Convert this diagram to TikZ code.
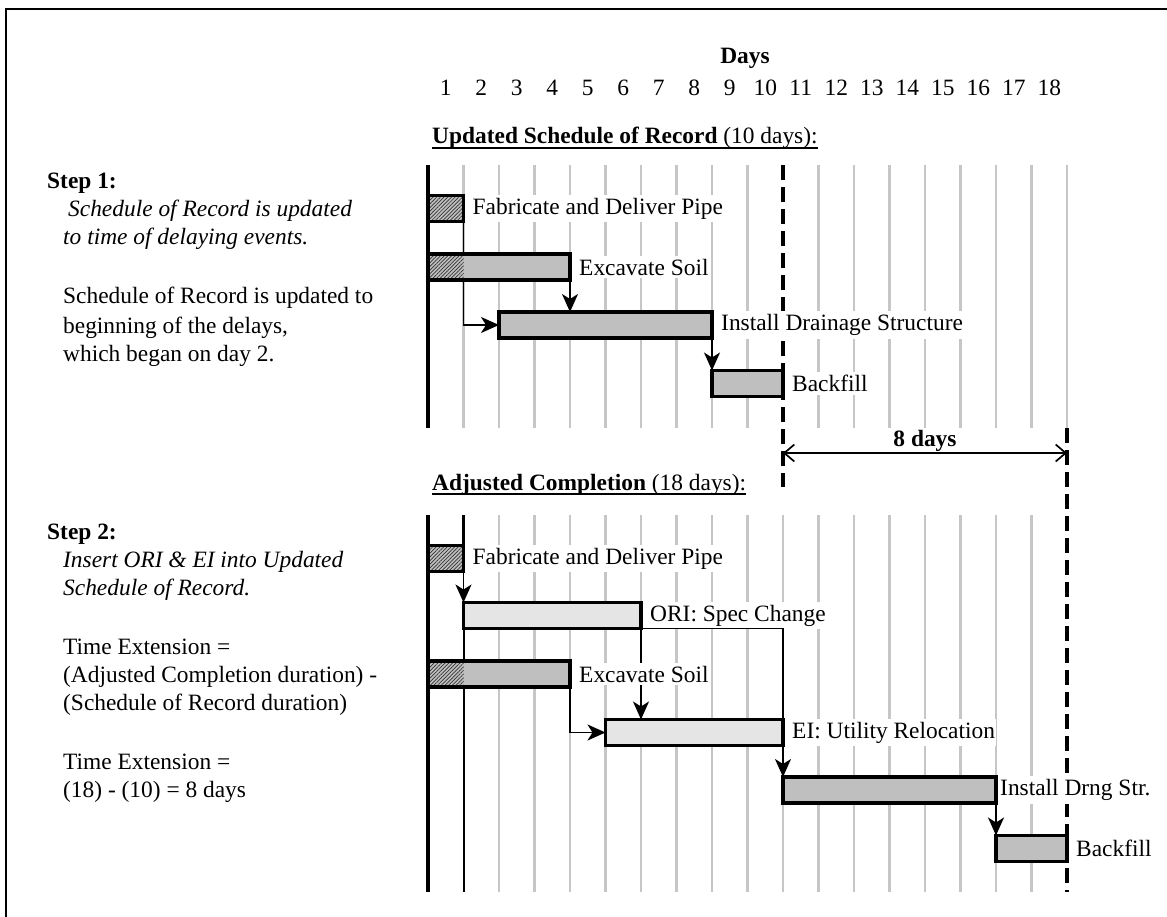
\documentclass[tikz,border=0pt]{standalone}
\usepackage{fontspec}
\setmainfont{Liberation Serif}
\usetikzlibrary{arrows.meta}
\usetikzlibrary{patterns.meta}
\usetikzlibrary{positioning}

\pgfdeclarelayer{background}
\pgfsetlayers{background,main}

\tikzset{
	bar/.style={draw, line width=3.6pt, fill=gray!50, minimum height=26pt, inner sep=0pt, outer sep=0pt, anchor=west},
	eventbar/.style={bar, fill=gray!20},
	hatchday/.style={path picture={\fill[pattern={Lines[angle=45,distance=2.6pt,line width=0.7pt]}, pattern color=black!80]
		(path picture bounding box.north west) rectangle ([xshift=35.5pt]path picture bounding box.south west);}},
	lbl/.style={fill=white, inner xsep=1pt, inner ysep=3pt},
	txt/.style={anchor=base west, inner sep=0pt},
	link/.style={line width=1.7pt, -{Stealth[length=18pt,width=16pt,inset=5pt]}},
	gridline/.style={gray!45, line width=2.2pt},
	compline/.style={line width=3.6pt, dash pattern=on 15pt off 7pt},
}

\begin{document}
\begin{tikzpicture}[x=1pt, y=-1pt, font=\fontsize{23.4}{28}\selectfont]

	\useasboundingbox (0,0) rectangle (1167,917);

	%frame (top and left edge only)
	\draw[line width=2.8pt] (6,925) -- (6,9) -- (1175,9);

	%day scale
	\node[anchor=base] (days) at (745,64) {\textbf{Days}};
	\foreach \d in {1,...,18}
		\node[anchor=base] (day\d) at ({428+35.5*(\d-0.5)},96) {\d};

	%section titles
	\node[txt] (ttl1) at (432,144) {\textbf{Updated Schedule of Record} (10 days):};
	\draw[line width=2.2pt] ([yshift=-4pt]ttl1.base west) -- ([yshift=-4pt]ttl1.base east);
	\node[txt] (ttl2) at (432,490) {\textbf{Adjusted Completion} (18 days):};
	\draw[line width=2.2pt] ([yshift=-4pt]ttl2.base west) -- ([yshift=-4pt]ttl2.base east);

	%step 1 text
	\node[txt] (stp1) at (47,189) {\textbf{Step 1:}};
	\node[txt] (stp1a) at (68,217) {\textit{Schedule of Record is updated}};
	\node[txt] (stp1b) at (63,245) {\textit{to time of delaying events.}};
	\node[txt] (stp1c) at (63,304) {Schedule of Record is updated to};
	\node[txt] (stp1d) at (63,333) {beginning of the delays,};
	\node[txt] (stp1e) at (63,361) {which began on day 2.};

	%step 2 text
	\node[txt] (stp2) at (47,539) {\textbf{Step 2:}};
	\node[txt] (stp2a) at (63,567) {\textit{Insert ORI \& EI into Updated}};
	\node[txt] (stp2b) at (63,595) {\textit{Schedule of Record.}};
	\node[txt] (stp2c) at (63,654) {Time Extension =};
	\node[txt] (stp2d) at (63,682) {(Adjusted Completion duration) -};
	\node[txt] (stp2e) at (63,710) {(Schedule of Record duration)};
	\node[txt] (stp2f) at (63,769) {Time Extension =};
	\node[txt] (stp2g) at (63,797) {(18) - (10) = 8 days};

	%updated schedule of record bars
	\node[bar, hatchday, minimum width=35.5pt] (fab1) at (428,208.5) {};
	\node[bar, hatchday, minimum width=142pt] (exc1) at (428,267) {};
	\node[bar, minimum width=213pt] (ins1) at (499,325) {};
	\node[bar, minimum width=71pt] (bkf1) at (712,383.5) {};

	\node[lbl, right=8pt of fab1] (lfab1) {Fabricate and Deliver Pipe};
	\node[lbl, right=8pt of exc1] (lexc1) {Excavate Soil};
	\node[lbl, right=8pt of ins1] (lins1) {Install Drainage Structure};
	\node[lbl, right=8pt of bkf1] (lbkf1) {Backfill};

	%adjusted completion bars
	\node[bar, hatchday, minimum width=35.5pt] (fab2) at (428,558.5) {};
	\node[eventbar, minimum width=177.5pt] (ori2) at (463.5,615.5) {};
	\node[bar, hatchday, minimum width=142pt] (exc2) at (428,674) {};
	\node[eventbar, minimum width=177.5pt] (ei2) at (605.5,732.5) {};
	\node[bar, minimum width=213pt] (dr2) at (783,790) {};
	\node[bar, minimum width=71pt] (bk2) at (996,848.5) {};

	\node[lbl, right=8pt of fab2] (lfab2) {Fabricate and Deliver Pipe};
	\node[lbl, right=8pt of ori2] (lori2) {ORI: Spec Change};
	\node[lbl, right=8pt of exc2] (lexc2) {Excavate Soil};
	\node[lbl, right=8pt of ei2] (lei2) {EI: Utility Relocation};
	\node[lbl, right=3pt of dr2] (ldr2) {Install Drng Str.};
	\node[lbl, right=8pt of bk2] (lbk2) {Backfill};

	\begin{pgfonlayer}{background}
		%day grid, top
		\foreach \k in {1,...,9,11,12,...,18}
			\draw[gridline] ({428+35.5*\k},165) -- ({428+35.5*\k},428);
		\draw[line width=4pt] (428,165) -- (428,428);
		%day grid, bottom
		\foreach \k in {2,...,17}
			\draw[gridline] ({428+35.5*\k},515) -- ({428+35.5*\k},892);
		\draw[line width=4pt] (428,515) -- (428,892);
		\coordinate (upd2top) at (463.5,515);
		\coordinate (upd2bot) at (463.5,892);
		\draw[line width=3pt] (upd2top) -- (fab2.north east);
		\draw[line width=2pt] (ori2.south west) -- (upd2bot);

		%completion lines
		\coordinate (cmp10top) at (783,165);
		\coordinate (cmp10bot) at (783,487);
		\coordinate (cmp18top) at (1067,428);
		\coordinate (cmp18bot) at (1067,892);
		\draw[compline] (cmp10top) -- (cmp10bot);
		\draw[compline] (cmp18top) -- (cmp18bot);

		%logic links, top
		\draw[link] (fab1.south east) |- (ins1.west);
		\draw[link] (exc1.south east) -- (exc1.south east |- ins1.north);
		\draw[link] (ins1.south east) -- (bkf1.north west);
		%logic links, bottom
		\draw[link] (fab2.south east) -- (ori2.north west);
		\draw[link] (ori2.south east) -- (ori2.south east |- ei2.north);
		\draw[link] (exc2.south east) |- (ei2.west);
		\draw[link] (ei2.south east) -- (dr2.north west);
		\draw[link] (dr2.south east) -- (bk2.north west);
	\end{pgfonlayer}

	\draw[line width=1.7pt] (ori2.south east) -| (ei2.north east);

	%time extension
	\coordinate (ext10) at (783,453);
	\coordinate (ext18) at (1067,453);
	\draw[line width=1.7pt, {Straight Barb[length=10pt,width=17pt]}-{Straight Barb[length=10pt,width=17pt]}]
		(ext10) -- node[above=1pt, inner sep=0pt] (ext) {\textbf{8 days}} (ext18);

\end{tikzpicture}
\end{document}
